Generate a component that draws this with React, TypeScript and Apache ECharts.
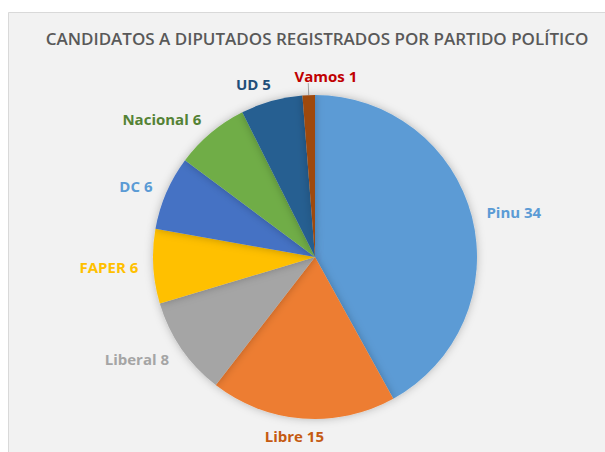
import React, { useEffect, useRef } from "react";
import * as echarts from "echarts";

const parties = ["Pinu", "Libre", "Liberal", "FAPER", "DC", "Nacional", "UD", "Vamos"];
const candidates = [34, 15, 8, 6, 6, 6, 5, 1];
const sliceColors = ["#5b9bd5", "#ed7d31", "#a5a5a5", "#ffc000", "#4472c4", "#70ad47", "#255e91", "#9e480e"];
const labelColors = ["#5b9bd5", "#c55a11", "#a5a5a5", "#ffc000", "#5b9bd5", "#548235", "#1f4e79", "#c00000"];
const titleText = "CANDIDATOS A DIPUTADOS REGISTRADOS POR PARTIDO POLÍTICO";

const CX = 315;
const CY = 257;
const R = 162;

export default function App() {
  const ref = useRef<HTMLDivElement>(null);
  useEffect(() => {
    const chart = echarts.init(ref.current!, null, { renderer: "svg" });
    const total = candidates.reduce((a, b) => a + b, 0);
    const mids: number[] = [];
    let acc = 0;
    candidates.forEach((v) => {
      mids.push(((acc + v / 2) / total) * Math.PI * 2);
      acc += v;
    });
    const lastIdx = parties.length - 1;

    chart.setOption({
      animation: false,
      backgroundColor: "#ffffff",
      graphic: [
        {
          type: "rect",
          shape: { x: 8.5, y: 12.5, width: 600, height: 445 },
          style: { fill: "#f2f2f2", stroke: "#d9d9d9", lineWidth: 1 },
          silent: true,
          z: -10,
        },
      ],
      title: {
        text: titleText,
        left: 312,
        top: 25,
        textAlign: "center",
        textStyle: {
          fontFamily: "Open Sans",
          fontSize: 17,
          fontWeight: 600,
          color: "#595959",
        },
      },
      series: [
        {
          type: "pie",
          center: [CX, CY],
          radius: R,
          startAngle: 90,
          clockwise: true,
          silent: true,
          emphasis: { disabled: true },
          data: parties.map((p, i) => ({
            name: p,
            value: candidates[i],
            itemStyle: { color: sliceColors[i] },
            label: { color: labelColors[i] },
            labelLine: { show: i === lastIdx },
          })),
          label: {
            show: true,
            position: "outside",
            formatter: "{b} {c}",
            fontFamily: "Open Sans",
            fontWeight: "bold",
            fontSize: 15,
          },
          labelLine: {
            show: false,
            length: 14,
            length2: 0,
            lineStyle: { color: "#a6a6a6", width: 1 },
          },
          labelLayout: (params: any) => {
            const i = params.dataIndex;
            const a = mids[i];
            const s = Math.sin(a);
            const c = Math.cos(a);
            const w = params.labelRect.width;
            const h = params.labelRect.height;
            if (i === lastIdx) {
              const x0 = CX + s * R;
              const y0 = CY - c * R;
              const x1 = CX + s * (R + 12);
              const y1 = CY - c * (R + 12);
              return {
                x: x1 + w * 0.28,
                y: y1 - h / 2,
                align: "center",
                verticalAlign: "middle",
                labelLinePoints: [
                  [x0, y0],
                  [x1, y1],
                  [x1, y1],
                ],
              };
            }
            const k = Math.max(-1, Math.min(1, s * 3));
            return {
              x: CX + s * 177 + (k * w) / 2,
              y: CY - c * 180,
              align: "center",
              verticalAlign: "middle",
            };
          },
          itemStyle: { shadowBlur: 8, shadowColor: "rgba(0,0,0,0.25)" },
        },
      ],
    });
    return () => chart.dispose();
  }, []);
  return (
    <div
      ref={ref}
      style={{ position: "fixed", left: 0, top: 0, width: 605, height: 452 }}
    />
  );
}
